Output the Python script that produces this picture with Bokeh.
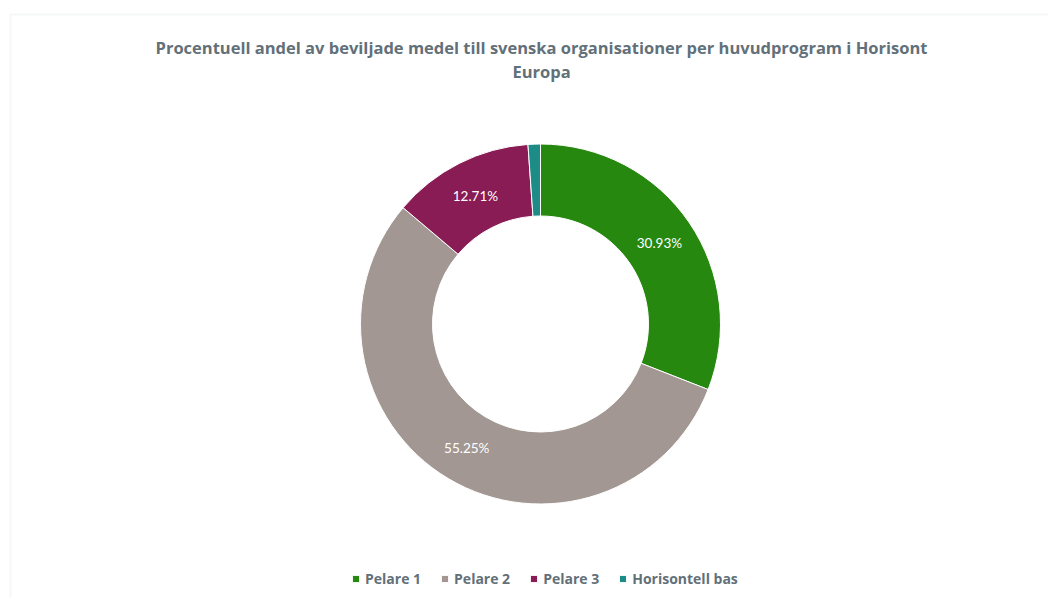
import math
from bokeh.plotting import figure
from bokeh.models import ColumnDataSource, Range1d, Legend, LegendItem, BoxAnnotation
from bokeh.core.properties import value
from bokeh.embed import file_html
from bokeh.resources import INLINE

# ---- data ----
categories = ["Pelare 1", "Pelare 2", "Pelare 3", "Horisontell bas"]
shares = [30.93, 55.25, 12.71, 1.11]
colors = ["#26880f", "#a29792", "#891b55", "#1d8b86"]
title_lines = [
    "Procentuell andel av beviljade medel till svenska organisationer per huvudprogram i Horisont",
    "Europa",
]

W, H = 1048, 597
FONT = "Open Sans"
GREY = "#627079"

p = figure(width=W, height=H, output_backend="svg", toolbar_location=None,
           x_range=Range1d(0, W), y_range=Range1d(0, H),
           x_axis_type=None, y_axis_type=None, min_border=0)
p.grid.visible = False
p.outline_line_color = None
p.background_fill_color = "white"
p.border_fill_color = "white"


def Y(py):
    return H - py


# light frame border
p.add_layout(BoxAnnotation(left=10, right=3000, top=Y(14), bottom=-500,
                           fill_alpha=0, line_color="#dde2e6", line_width=2))

# donut geometry
cx, cy = 540, Y(323.5)
r_in, r_out = 108, 180

total = sum(shares)
starts, ends, mids = [], [], []
acc = 0.0
for s in shares:
    a0 = math.pi / 2 - 2 * math.pi * acc / total
    acc += s
    a1 = math.pi / 2 - 2 * math.pi * acc / total
    starts.append(a0)
    ends.append(a1)
    mids.append((a0 + a1) / 2)

src = ColumnDataSource(dict(cat=categories, share=shares, color=colors,
                            start=starts, end=ends))
r = p.annular_wedge(x=cx, y=cy, inner_radius=r_in, outer_radius=r_out,
                    start_angle="start", end_angle="end", direction="clock",
                    fill_color="color", line_color="white", line_width=1,
                    source=src)

r_lab = (r_in + r_out) / 2
lab_src = ColumnDataSource(dict(
    x=[cx + r_lab * math.cos(m) for m in mids],
    y=[cy + r_lab * math.sin(m) for m in mids],
    t=[f"{s:.2f}%" if s / total > 0.03 else "" for s in shares],
))
p.text(x="x", y="y", text="t", source=lab_src, text_color="white",
       text_font=value("Lato"), text_font_size="13.5px",
       text_align="center", text_baseline="middle")

# title (two lines)
tsrc = ColumnDataSource(dict(x=[541, 541], y=[Y(47), Y(71)], t=title_lines))
p.text(x="x", y="y", text="t", source=tsrc, text_color=GREY,
       text_font=value(FONT), text_font_size="16.5px", text_font_style="bold",
       text_align="center", text_baseline="middle")

legend = Legend(items=[LegendItem(label=c, renderers=[r], index=i)
                       for i, c in enumerate(categories)],
                orientation="horizontal", location=(351, 9),
                glyph_width=9, glyph_height=9, label_standoff=5, spacing=19,
                padding=0, margin=0, border_line_alpha=0,
                background_fill_alpha=0,
                label_text_font=FONT, label_text_font_size="14px",
                label_text_font_style="bold", label_text_color=GREY)
p.add_layout(legend)

open("out.html", "w").write(file_html(p, INLINE))
